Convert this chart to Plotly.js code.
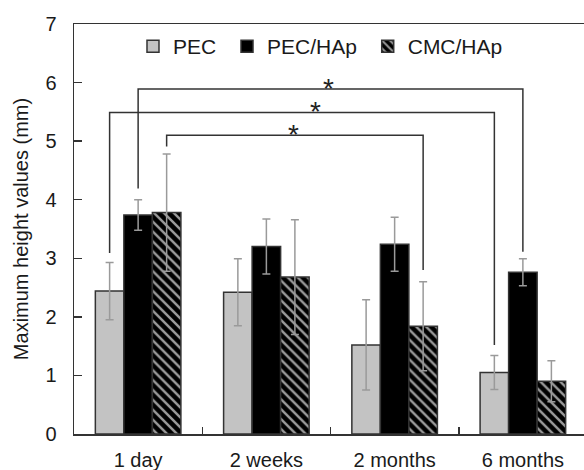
<!DOCTYPE html>
<html>
<head>
<meta charset="utf-8">
<script src="https://cdn.plot.ly/plotly-3.0.1.min.js"></script>
<style>
html, body { margin: 0; padding: 0; overflow: hidden; width: 584px; height: 470px; background: #fff; }
#chart { width: 600px; height: 470px; }
</style>
</head>
<body>
<div id="chart"></div>
<script>
// ---- data ----
const categories = ['1 day', '2 weeks', '2 months', '6 months'];
const seriesNames = ['PEC', 'PEC/HAp', 'CMC/HAp'];
const pecValues = [2.44, 2.42, 1.52, 1.05];
const pecErrors = [0.49, 0.57, 0.77, 0.29];
const pecHapValues = [3.74, 3.20, 3.24, 2.76];
const pecHapErrors = [0.26, 0.47, 0.46, 0.23];
const cmcHapValues = [3.78, 2.68, 1.84, 0.90];
const cmcHapErrors = [1.00, 0.98, 0.76, 0.35];
const yTickValues = [0, 1, 2, 3, 4, 5, 6, 7];

// significance comparisons: [category index, series index]
const compFrom = [[0, 0], [0, 1], [0, 2]];
const compTo = [[3, 0], [3, 1], [2, 2]];
const compTopY = [5.49, 5.89, 5.10];
const compFromY = [3.09, 4.19, 4.91];
const compToY = [1.52, 3.11, 2.80];
const compStarX = [1.385, 1.488, 1.215];
const compLabel = ['*', '*', '*'];

// ---- styling ----
const FONT = 'Liberation Sans, Arial, sans-serif';
const BARGAP = 0.333;
const barOffset = (1 - BARGAP) / 3;
const lineColor = '#333333';
const errColor = '#9a9a9a';
const textColor = '#1a1a1a';

function errBar(arr) {
  return { type: 'data', array: arr, visible: true, color: errColor, thickness: 1.5, width: 4 };
}

const traces = [
  { type: 'bar', name: seriesNames[0] + '\u00a0', x: categories, y: pecValues,
    error_y: errBar(pecErrors),
    marker: { color: '#c3c3c3', line: { color: lineColor, width: 1.5 } } },
  { type: 'bar', name: seriesNames[1] + '\u00a0', x: categories, y: pecHapValues,
    error_y: errBar(pecHapErrors),
    marker: { color: '#000000', line: { color: lineColor, width: 1.5 } } },
  { type: 'bar', name: seriesNames[2], x: categories, y: cmcHapValues,
    error_y: errBar(cmcHapErrors),
    marker: { color: '#000000', line: { color: lineColor, width: 1.5 },
      pattern: { shape: '\\', bgcolor: '#000000', fgcolor: '#9a9a9a', size: 7, solidity: 0.35, fillmode: 'replace' } } }
];

const shapes = [];
const annotations = [];
for (let i = 0; i < compFrom.length; i++) {
  const xa = compFrom[i][0] + (compFrom[i][1] - 1) * barOffset;
  const xb = compTo[i][0] + (compTo[i][1] - 1) * barOffset;
  const ln = { color: lineColor, width: 1.5 };
  shapes.push({ type: 'path', xref: 'x', yref: 'y',
    path: 'M' + xa + ',' + compFromY[i] + ' L' + xa + ',' + compTopY[i] + ' L' + xb + ',' + compTopY[i] + ' L' + xb + ',' + compToY[i],
    line: ln });
  annotations.push({ x: compStarX[i], y: compTopY[i], xref: 'x', yref: 'y', text: compLabel[i],
    showarrow: false, yanchor: 'bottom', yshift: -17,
    font: { family: FONT, size: 28, color: '#222' } });
}

const layout = {
  width: 600, height: 470,
  margin: { l: 74, r: 13, t: 24, b: 36 },
  paper_bgcolor: '#ffffff', plot_bgcolor: '#ffffff',
  font: { family: FONT, size: 20, color: textColor },
  barmode: 'group', bargap: BARGAP, bargroupgap: 0,
  showlegend: true,
  legend: { orientation: 'h', x: 0.115, xanchor: 'left', y: 0.945, yanchor: 'middle',
    bgcolor: 'rgba(0,0,0,0)', font: { family: FONT, size: 21, color: textColor } },
  xaxis: { type: 'category', range: [-0.5, 3.5], showline: true, linecolor: lineColor, linewidth: 1.5,
    mirror: true, ticks: 'inside', tickson: 'boundaries', ticklen: 7, tickcolor: lineColor, tickwidth: 1.5,
    ticklabelstandoff: 7, showgrid: false, zeroline: false,
    tickfont: { family: FONT, size: 20, color: textColor } },
  yaxis: { range: [0, 7], tickvals: yTickValues, showline: true, linecolor: lineColor, linewidth: 1.5,
    mirror: true, ticks: 'inside', ticklen: 8, tickcolor: lineColor, tickwidth: 1.5,
    ticklabelstandoff: 12, showgrid: false, zeroline: false,
    tickfont: { family: FONT, size: 20, color: textColor },
    title: { text: 'Maximum height values (mm)', standoff: 11, font: { family: FONT, size: 20, color: textColor } } },
  shapes: shapes,
  annotations: annotations
};

Plotly.newPlot('chart', traces, layout, { displayModeBar: false, staticPlot: true });
</script>
</body>
</html>
